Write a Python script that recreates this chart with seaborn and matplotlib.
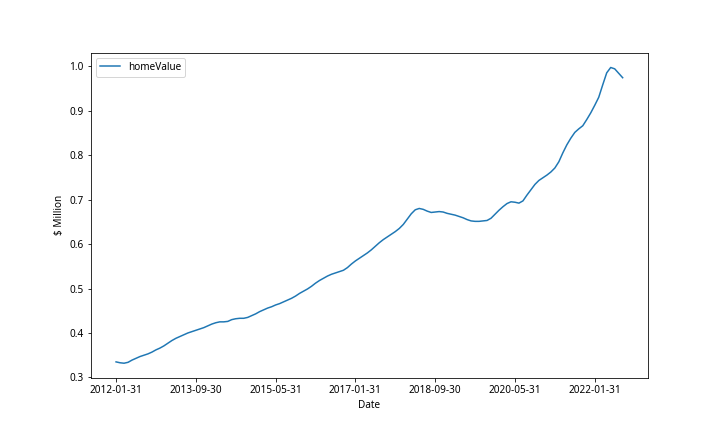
import matplotlib
matplotlib.use("Agg")
import matplotlib.pyplot as plt
import seaborn as sns
import pandas as pd

dates = pd.date_range("2012-01-31", periods=128, freq="ME").strftime("%Y-%m-%d").tolist()

home_value = [
    0.335, 0.333, 0.332, 0.334, 0.339, 0.343, 0.347, 0.350, 0.353, 0.357,
    0.362, 0.366, 0.371, 0.377, 0.383, 0.388, 0.392, 0.396, 0.400, 0.403,
    0.406, 0.409, 0.412, 0.416, 0.420, 0.423, 0.425, 0.425, 0.426, 0.430,
    0.432, 0.433, 0.433, 0.435, 0.439, 0.443, 0.448, 0.452, 0.456, 0.459,
    0.463, 0.466, 0.470, 0.474, 0.478, 0.483, 0.489, 0.494, 0.499, 0.505,
    0.512, 0.518, 0.523, 0.528, 0.532, 0.535, 0.538, 0.541, 0.547, 0.555,
    0.562, 0.568, 0.574, 0.580, 0.587, 0.595, 0.603, 0.610, 0.616, 0.622,
    0.628, 0.635, 0.644, 0.656, 0.668, 0.677, 0.680, 0.678, 0.674, 0.671,
    0.672, 0.673, 0.672, 0.669, 0.667, 0.665, 0.662, 0.659, 0.655, 0.652,
    0.651, 0.651, 0.652, 0.653, 0.658, 0.667, 0.676, 0.684, 0.691, 0.695,
    0.694, 0.692, 0.697, 0.710, 0.722, 0.734, 0.743, 0.749, 0.755, 0.762,
    0.771, 0.785, 0.805, 0.823, 0.838, 0.851, 0.859, 0.866, 0.880, 0.895,
    0.912, 0.930, 0.958, 0.985, 0.997, 0.994, 0.984, 0.974,
]

df = pd.DataFrame({"Date": dates, "homeValue": home_value})
df["pos"] = range(len(df))

plt.rcParams["font.family"] = ["Noto Sans", "Noto Sans CJK JP", "DejaVu Sans"]
plt.rcParams["font.size"] = 10

fig, ax = plt.subplots(figsize=(10, 6), dpi=72)
fig.subplots_adjust(left=0.126, right=0.9, bottom=0.125, top=0.878)

sns.lineplot(data=df, x="pos", y="homeValue", ax=ax, color="#1f77b4",
             linewidth=1.5, label="homeValue")

tick_pos = list(range(0, len(dates), 20))
ax.set_xticks(tick_pos)
ax.set_xticklabels([dates[i] for i in tick_pos])
ax.set_xlabel("Date")
ax.set_ylabel("$ Million")
ax.legend(loc="upper left")

fig.savefig("out.png", dpi=72)
